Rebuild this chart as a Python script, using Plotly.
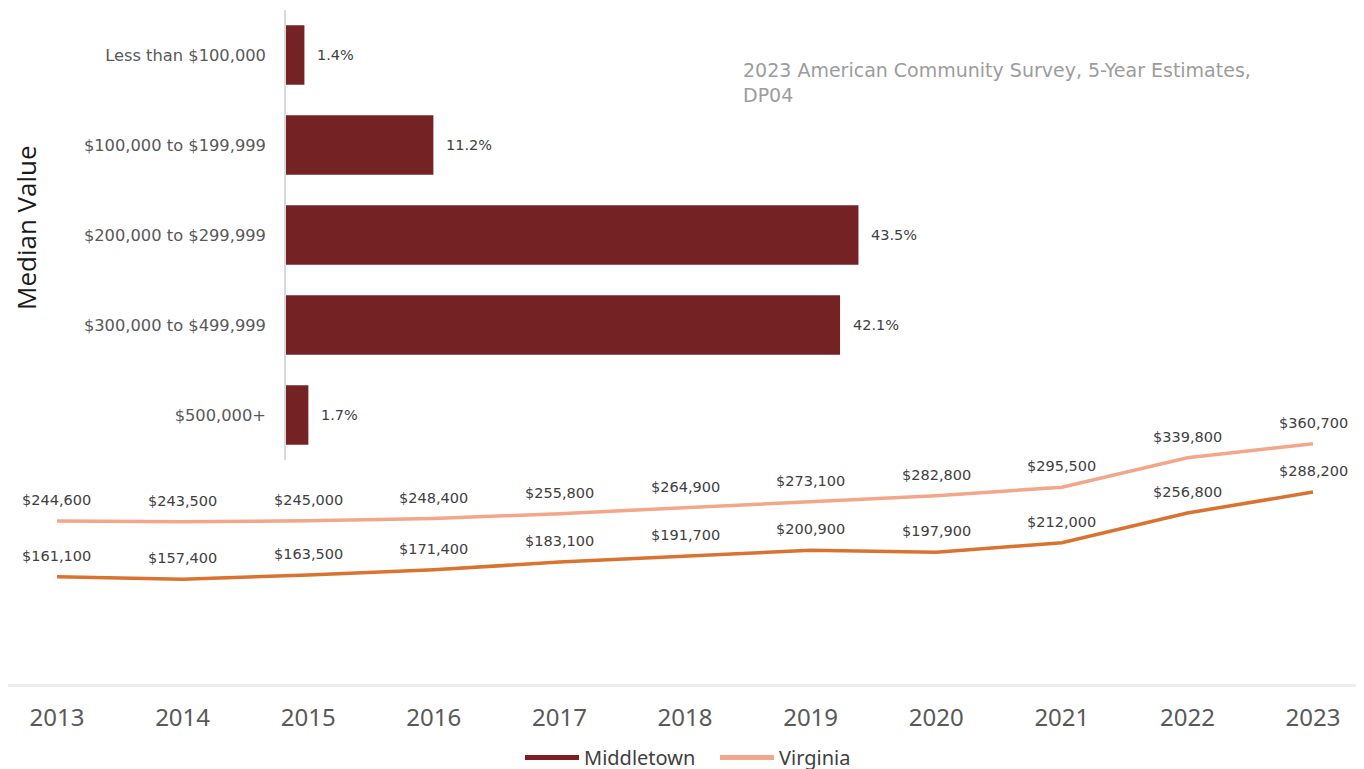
import plotly.graph_objects as go

# ---- data ----
years = [2013, 2014, 2015, 2016, 2017, 2018, 2019, 2020, 2021, 2022, 2023]
middletown = [161100, 157400, 163500, 171400, 183100, 191700, 200900, 197900, 212000, 256800, 288200]
virginia = [244600, 243500, 245000, 248400, 255800, 264900, 273100, 282800, 295500, 339800, 360700]

value_bins = ["Less than $100,000", "$100,000 to $199,999", "$200,000 to $299,999",
              "$300,000 to $499,999", "$500,000+"]
bin_shares = [1.4, 11.2, 43.5, 42.1, 1.7]

source_text = "2023 American Community Survey, 5-Year Estimates,<br>DP04"

# ---- layout helpers (page has an 8px body margin) ----
OFF = 8
W, H = 1364 - OFF, 769


def fx(px):
    return (px - OFF) / W


def fy(py):
    return 1 - (py - OFF) / H


C_MID_LINE = "#D9732F"
C_VA_LINE = "#F2A68A"
C_MID_LEG = "#7B1F22"
C_VA_LEG = "#F2A68A"
C_BAR = "#752225"
WIDE_FONT = "DejaVu Sans, Verdana, sans-serif"

fig = go.Figure()

# Lines
fig.add_trace(go.Scatter(x=years, y=virginia, mode="lines",
                         line=dict(color=C_VA_LINE, width=3.5),
                         showlegend=False, xaxis="x", yaxis="y"))
fig.add_trace(go.Scatter(x=years, y=middletown, mode="lines",
                         line=dict(color=C_MID_LINE, width=3.5),
                         showlegend=False, xaxis="x", yaxis="y"))
# Legend entries
fig.add_trace(go.Scatter(x=[None], y=[None], mode="lines", name="Middletown",
                         line=dict(color=C_MID_LEG, width=5), xaxis="x", yaxis="y"))
fig.add_trace(go.Scatter(x=[None], y=[None], mode="lines", name="Virginia",
                         line=dict(color=C_VA_LEG, width=5), xaxis="x", yaxis="y"))

# Inset bars
fig.add_trace(go.Bar(x=bin_shares, y=value_bins, orientation="h",
                     marker=dict(color=C_BAR, line=dict(width=0)),
                     width=0.66, showlegend=False, xaxis="x2", yaxis="y2"))

label_font = dict(family=WIDE_FONT, size=14.5, color="#404040")
annotations = []
for yr, v in zip(years, virginia):
    annotations.append(dict(x=yr, y=v, xref="x", yref="y", text=f"${v:,}",
                            showarrow=False, yshift=21, font=label_font))
for yr, v in zip(years, middletown):
    annotations.append(dict(x=yr, y=v, xref="x", yref="y", text=f"${v:,}",
                            showarrow=False, yshift=21, font=label_font))
for b, s in zip(value_bins, bin_shares):
    annotations.append(dict(x=s, y=b, xref="x2", yref="y2", text=f"{s}%",
                            showarrow=False, xanchor="left", xshift=11, font=label_font))

annotations.append(dict(x=fx(26), y=fy(228), xref="paper", yref="paper",
                        xanchor="center", yanchor="middle", borderpad=0,
                        text="Median Value", textangle=-90, showarrow=False,
                        font=dict(family="Open Sans, sans-serif", size=26, color="#1a1a1a")))
annotations.append(dict(x=fx(741), y=fy(57), xref="paper", yref="paper",
                        text=source_text, showarrow=False, xanchor="left", yanchor="top",
                        align="left",
                        font=dict(family=WIDE_FONT, size=19, color="#9c9c9c")))

fig.update_layout(
    width=W, height=H,
    margin=dict(l=0, r=0, t=0, b=0),
    paper_bgcolor="white", plot_bgcolor="rgba(0,0,0,0)",
    font=dict(family=WIDE_FONT, color="#595959"),
    xaxis=dict(domain=[fx(8), fx(1357)], range=[2012.61, 2023.35],
               tickvals=years, ticktext=[str(y) for y in years],
               showgrid=False, zeroline=False, showline=True,
               linecolor="#ededed", linewidth=3, ticks="", ticklabelstandoff=10,
               tickfont=dict(family="Noto Sans, Open Sans, sans-serif", size=24, color="#595959")),
    yaxis=dict(domain=[fy(684), fy(18)], range=[0, 1000000],
               visible=False, showgrid=False, zeroline=False),
    xaxis2=dict(domain=[fx(286), fx(944)], range=[0, 50], anchor="y2",
                visible=False, showgrid=False, zeroline=False),
    yaxis2=dict(domain=[fy(460), fy(10)], anchor="x2",
                categoryorder="array", categoryarray=value_bins, autorange="reversed",
                showgrid=False, zeroline=False, showline=True,
                linecolor="#d9d9d9", linewidth=1.5, ticks="", ticklabelstandoff=15,
                tickfont=dict(family=WIDE_FONT, size=16.3, color="#595959")),
    legend=dict(orientation="h", x=fx(520), xanchor="left", y=0, yanchor="bottom",
                itemwidth=54, font=dict(family="Noto Sans, Open Sans, sans-serif", size=20, color="#404040"),
                bgcolor="rgba(0,0,0,0)", tracegroupgap=0, entrywidth=126),
    annotations=annotations,
)

fig.write_html("out.html")
